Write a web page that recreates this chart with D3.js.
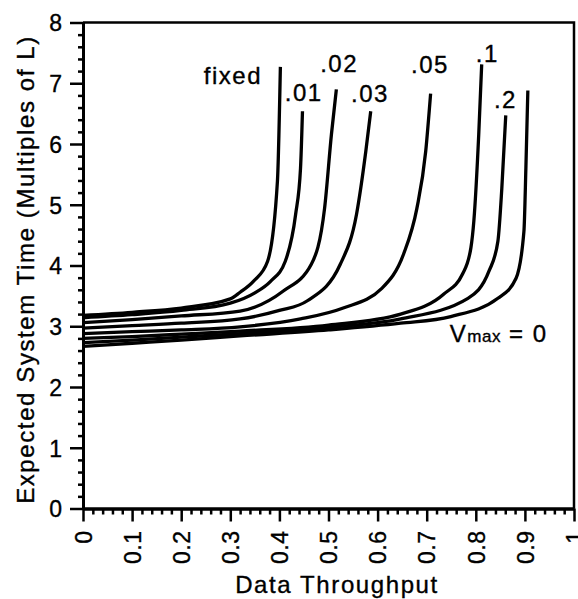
<!DOCTYPE html>
<html>
<head>
<meta charset="utf-8">
<script src="https://cdn.jsdelivr.net/npm/d3@7"></script>
<style>
  body { margin: 0; background: #fff; }
  svg text { font-family: "Liberation Sans", Arial, Helvetica, sans-serif; fill: #000; stroke: #000; stroke-width: 0.35px; }
</style>
</head>
<body>
<div id="chart"></div>
<script>
  // curve names, top-to-bottom at throughput 0
  var seriesNames = ["fixed", ".01", ".02", ".03", ".05", ".1", ".2", "0"];

  var seriesX = [
    [0, 0.1, 0.2, 0.3, 0.32, 0.347, 0.376, 0.396, 0.402],
    [0, 0.1, 0.2, 0.3, 0.35, 0.382, 0.412, 0.433, 0.443, 0.447],
    [0, 0.1, 0.2, 0.32, 0.408, 0.465, 0.492, 0.506, 0.516],
    [0, 0.1, 0.2, 0.32, 0.4, 0.457, 0.524, 0.557, 0.576, 0.586],
    [0, 0.1, 0.2, 0.32, 0.443, 0.53, 0.608, 0.653, 0.68, 0.698, 0.708],
    [0, 0.1, 0.2, 0.32, 0.5, 0.647, 0.735, 0.773, 0.79, 0.796, 0.806, 0.812],
    [0, 0.1, 0.2, 0.32, 0.5, 0.647, 0.784, 0.827, 0.845, 0.853, 0.861],
    [0, 0.1, 0.2, 0.32, 0.5, 0.647, 0.749, 0.845, 0.882, 0.898, 0.902, 0.906]
  ];

  var seriesY = [
    [3.18, 3.23, 3.3, 3.45, 3.56, 3.74, 4.07, 5.39, 7.27],
    [3.14, 3.19, 3.26, 3.38, 3.55, 3.74, 4.07, 4.84, 5.6, 6.54],
    [3.06, 3.11, 3.17, 3.25, 3.58, 4.02, 4.94, 6.16, 6.9],
    [2.97, 3.01, 3.05, 3.12, 3.26, 3.42, 4.02, 4.84, 5.88, 6.54],
    [2.88, 2.91, 2.94, 2.99, 3.12, 3.3, 3.62, 4.19, 4.94, 5.88, 6.83],
    [2.8, 2.83, 2.87, 2.92, 3.02, 3.2, 3.53, 3.86, 4.29, 4.73, 6.16, 7.31],
    [2.73, 2.77, 2.82, 2.88, 2.98, 3.12, 3.46, 3.91, 4.4, 5.27, 6.47],
    [2.67, 2.72, 2.77, 2.84, 2.94, 3.05, 3.16, 3.46, 3.79, 4.56, 5.6, 6.88]
  ];

  // where each curve label sits (data units, text start / baseline)
  var labelX = [0.246, 0.411, 0.483, 0.546, 0.668, 0.800, 0.837, 0.747];
  var labelY = [6.99, 6.71, 7.19, 6.69, 7.17, 7.35, 6.59, 2.74];

  var xTicks = [0, 0.1, 0.2, 0.3, 0.4, 0.5, 0.6, 0.7, 0.8, 0.9, 1];
  var xTickLabels = ["0", "0.1", "0.2", "0.3", "0.4", "0.5", "0.6", "0.7", "0.8", "0.9", "1"];
  var yTicks = [0, 1, 2, 3, 4, 5, 6, 7, 8];

  var width = 578, height = 599;
  var plotLeft = 83, plotRight = 574, plotTop = 22.5, plotBottom = 508.5;

  var svg = d3.select("#chart").append("svg")
      .attr("width", width)
      .attr("height", height);

  var x = d3.scaleLinear().domain([0, 1]).range([plotLeft, plotRight]);
  var y = d3.scaleLinear().domain([0, 8]).range([plotBottom, plotTop]);

  // box: top and right borders
  svg.append("path")
      .attr("d", "M" + x(0) + "," + y(8) + "H" + x(1) + "V" + y(0))
      .attr("fill", "none")
      .attr("stroke", "#000")
      .attr("stroke-width", 2.5);

  // minor ticks
  var xMinor = d3.range(0, 1.0001, 0.02).filter(v => Math.abs(v * 10 - Math.round(v * 10)) > 1e-6);
  var yMinor = d3.range(0, 8.0001, 0.2).filter(v => Math.abs(v - Math.round(v)) > 1e-6);

  var xMinorAxis = svg.append("g")
      .attr("transform", "translate(0," + plotBottom + ")")
      .call(d3.axisBottom(x).tickValues(xMinor).tickSize(6).tickFormat("").tickSizeOuter(0));
  var yMinorAxis = svg.append("g")
      .attr("transform", "translate(" + plotLeft + ",0)")
      .call(d3.axisLeft(y).tickValues(yMinor).tickSize(5).tickFormat("").tickSizeOuter(0));

  var xAxis = svg.append("g")
      .attr("transform", "translate(0," + plotBottom + ")")
      .call(d3.axisBottom(x).tickValues(xTicks).tickSize(13).tickSizeOuter(0)
        .tickFormat((d, i) => xTickLabels[i]));
  var yAxis = svg.append("g")
      .attr("transform", "translate(" + plotLeft + ",0)")
      .call(d3.axisLeft(y).tickValues(yTicks).tickSize(13).tickPadding(8).tickSizeOuter(0));

  [xMinorAxis, yMinorAxis, xAxis, yAxis].forEach(function (g) {
    g.selectAll("line").attr("stroke", "#000").attr("stroke-width", 2.5);
    g.select(".domain").attr("stroke", "#000").attr("stroke-width", 3);
  });

  yAxis.selectAll("text")
      .style("font-size", "23px")
      .attr("dy", "0.36em");

  xAxis.selectAll("text")
      .style("font-size", "23px")
      .style("letter-spacing", "0.5px")
      .attr("text-anchor", "end")
      .attr("transform", "translate(0,22) rotate(-90)")
      .attr("x", 0)
      .attr("y", 0)
      .attr("dy", "0.36em");

  // curves
  var line = d3.line()
      .curve(d3.curveMonotoneX)
      .x(d => x(d[0]))
      .y(d => y(d[1]));

  seriesNames.forEach(function (name, i) {
    var pts = seriesX[i].map((v, j) => [v, seriesY[i][j]]);
    svg.append("path")
        .datum(pts)
        .attr("d", line)
        .attr("fill", "none")
        .attr("stroke", "#000")
        .attr("stroke-width", 3.3)
        .attr("stroke-linejoin", "round");
  });

  // curve labels
  seriesNames.forEach(function (name, i) {
    var t = svg.append("text")
        .attr("x", x(labelX[i]))
        .attr("y", y(labelY[i]))
        .style("font-size", "24px")
        .style("letter-spacing", "1.5px");
    if (name === "0") {
      t.append("tspan").text("V");
      t.append("tspan").style("font-size", "17px").style("letter-spacing", "0.5px").text("max");
      t.append("tspan").text(" = 0");
    } else {
      t.text(name);
    }
  });

  // axis titles
  svg.append("text")
      .attr("x", 337)
      .attr("y", 593)
      .attr("text-anchor", "middle")
      .style("font-size", "24px")
      .style("letter-spacing", "1.6px")
      .text("Data Throughput");

  svg.append("text")
      .attr("transform", "translate(34," + ((plotTop + plotBottom) / 2 + 4) + ") rotate(-90)")
      .attr("text-anchor", "middle")
      .style("font-size", "24px")
      .style("letter-spacing", "1.6px")
      .text("Expected System Time (Multiples of L)");
</script>
</body>
</html>
